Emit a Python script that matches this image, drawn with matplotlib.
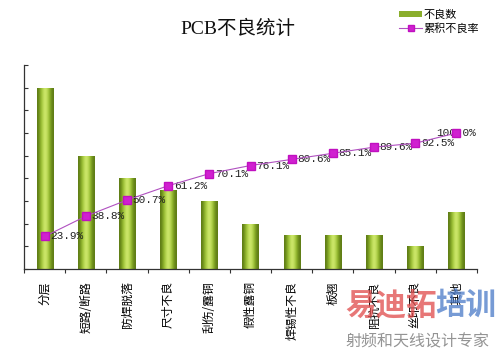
import numpy as np
import matplotlib
matplotlib.use("Agg")
import matplotlib.pyplot as plt
from matplotlib.lines import Line2D
from matplotlib.patches import Patch

plt.rcParams["font.family"] = ["Noto Sans CJK SC", "DejaVu Sans"]

categories = ["分层", "短路/断路", "防焊脱落", "尺寸不良", "刮伤/露铜", "假性露铜",
              "焊锡性不良", "板翘", "阻抗不良", "丝印不良", "其他"]
defects = [16, 10, 8, 7, 6, 4, 3, 3, 3, 2, 5]
cum_rate = [23.9, 38.8, 50.7, 61.2, 70.1, 76.1, 80.6, 85.1, 89.6, 92.5, 100.0]

fig = plt.figure(figsize=(5, 3.56), dpi=100)
ax = fig.add_axes([0.048, 0.2444, 0.906, 0.573])
x = np.arange(len(categories))

# bars with a cylinder-like shading
bars = ax.bar(x, defects, width=0.39, color="#8db32e", zorder=2)
shade = np.array([0.0, 0.25, 0.55, 0.8, 1.0, 0.95, 0.75, 0.45, 0.15, 0.0])
cmap = matplotlib.colors.LinearSegmentedColormap.from_list(
    "olive", ["#5f7d16", "#92b82c", "#cde86a"])
for b in bars:
    img = ax.imshow(shade[np.newaxis, :], cmap=cmap, aspect="auto",
                    extent=(b.get_x(), b.get_x() + b.get_width(), 0, b.get_height()),
                    zorder=2.5, interpolation="bicubic")
    img.set_clip_path(b)

ax.set_xlim(-0.5, len(categories) - 0.5)
ax.set_ylim(0, 18)
ax.set_yticks(range(0, 19, 2))
ax.set_yticklabels([])
ax.tick_params(axis="y", direction="in", length=3, width=0.8, color="#333333")
ax.set_xticks(x)
ax.set_xticklabels(categories, rotation=90, va="top", ha="center", fontsize=8.5)
ax.tick_params(axis="x", length=0, pad=9)
ax.set_xticks(np.arange(-0.5, len(categories), 1), minor=True)
ax.tick_params(axis="x", which="minor", direction="out", length=3, width=0.8, color="#333333")
for s in ["top", "right"]:
    ax.spines[s].set_visible(False)
for s in ["left", "bottom"]:
    ax.spines[s].set_color("#333333")
    ax.spines[s].set_linewidth(0.9)

# cumulative rate on a hidden second axis
ax2 = ax.twinx()
ax2.set_ylim(0, 150)
ax2.axis("off")
ax2.plot(x, cum_rate, color="#b050c0", lw=0.8, marker="s", ms=5.5,
         mfc="#d020d0", mec="#c010c0", zorder=4)
for i, v in enumerate(cum_rate):
    if i == len(cum_rate) - 1:
        ax2.text(i, v, f"{v:.1f}%", ha="center", va="center", fontsize=8,
                 family="Liberation Mono", color="#222222", zorder=3)
    else:
        ax2.annotate(f"{v:.1f}%", (i, v), xytext=(4, 0), textcoords="offset points",
                     ha="left", va="center", fontsize=8, family="Liberation Mono",
                     color="#222222")

fig.text(0.476, 0.918, "PCB不良统计", ha="center", va="center", fontsize=14,
         color="#111111", family=["Liberation Serif", "Noto Sans CJK SC"])

handles = [Patch(facecolor="#8aae2c", edgecolor="none"),
           Line2D([0], [0], color="#b050c0", lw=0.8, marker="s", ms=5,
                  mfc="#d020d0", mec="#c010c0")]
fig.legend(handles, ["不良数", "累积不良率"], loc="upper left",
           bbox_to_anchor=(0.79, 0.985), frameon=False, fontsize=8,
           handlelength=2.0, handleheight=0.4, handletextpad=0.15,
           labelspacing=0.25, borderaxespad=0)

# watermark
fig.text(0.69, 0.14, "易迪拓", fontsize=22, color="#e04a4a", alpha=0.75,
         weight="bold", va="center")
fig.text(0.87, 0.14, "培训", fontsize=22, color="#4a7ac8", alpha=0.75,
         weight="bold", va="center")
fig.text(0.69, 0.04, "射频和天线设计专家", fontsize=11.5, color="#888888",
         alpha=0.9, va="center")

fig.savefig("out.png", dpi=100)
